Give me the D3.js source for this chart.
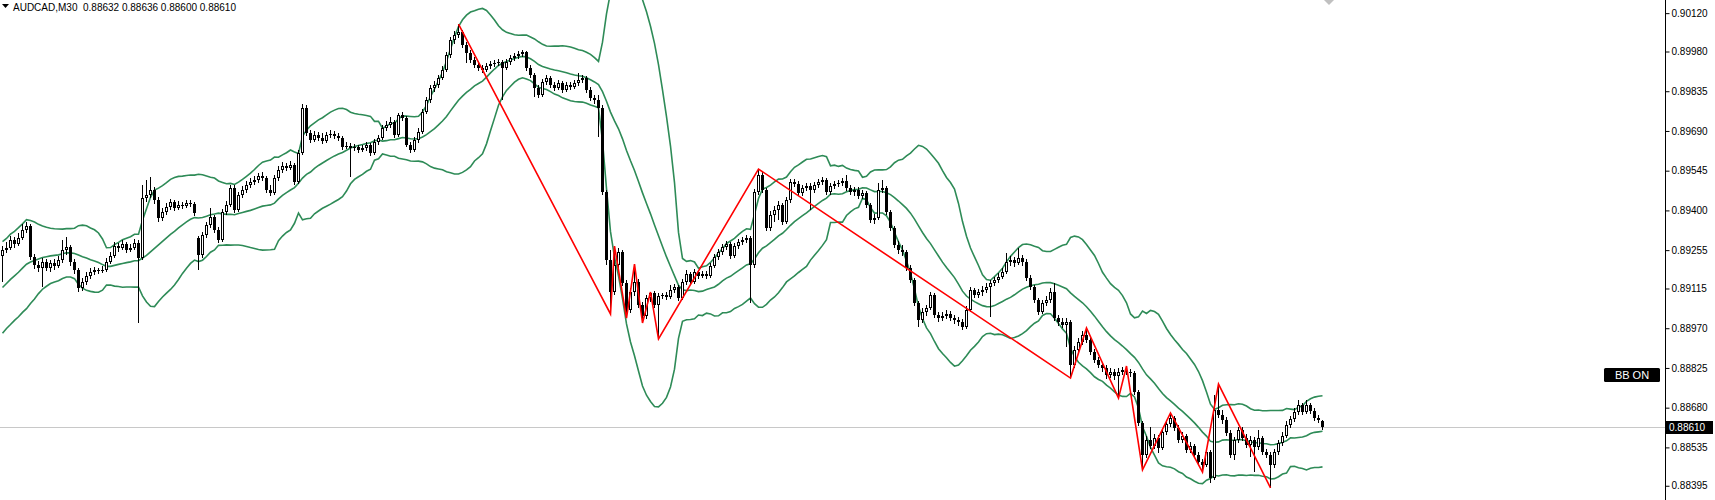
<!DOCTYPE html>
<html><head><meta charset="utf-8">
<script src="https://cdn.jsdelivr.net/npm/d3@7"></script>
<style>body{margin:0;background:#fff;overflow:hidden}svg{display:block}</style>
</head><body>
<svg id="chart" width="1715" height="500"></svg>
<script>
const symbol = "AUDCAD,M30";
const headerValues = ["0.88632","0.88636","0.88600","0.88610"];
const lastPrice = 0.88610;
const indicatorLabel = "BB ON";
const bbPeriod = 20, bbDeviation = 2;
const tickLabels = ["0.90120","0.89980","0.89835","0.89690","0.89545","0.89400","0.89255","0.89115","0.88970","0.88825","0.88680","0.88535","0.88395"];
// closes of the 19 bars before the first visible bar (needed by the bands)
const priorCloses = [0.88971,0.88993,0.89018,0.89037,0.89029,0.89055,0.89073,0.89088,0.89080,0.89110,0.89128,0.89146,0.89161,0.89183,0.89175,0.89197,0.89212,0.89226,0.89237];
const open = [0.89234,0.89256,0.89263,0.89292,0.89277,0.89299,0.89329,0.89343,0.89230,0.89201,
0.89190,0.89212,0.89190,0.89208,0.89197,0.89219,0.89256,0.89266,0.89212,0.89183,
0.89117,0.89139,0.89161,0.89175,0.89183,0.89179,0.89183,0.89212,0.89234,0.89270,
0.89263,0.89277,0.89256,0.89263,0.89281,0.89226,0.89445,0.89456,0.89475,0.89438,
0.89372,0.89394,0.89413,0.89431,0.89409,0.89420,0.89416,0.89427,0.89423,0.89299,
0.89237,0.89310,0.89347,0.89376,0.89329,0.89292,0.89394,0.89420,0.89482,0.89402,
0.89456,0.89475,0.89493,0.89504,0.89511,0.89526,0.89518,0.89475,0.89464,0.89518,
0.89548,0.89562,0.89555,0.89566,0.89504,0.89610,0.89774,0.89683,0.89657,0.89675,
0.89664,0.89653,0.89675,0.89679,0.89672,0.89664,0.89632,0.89635,0.89628,0.89632,
0.89621,0.89628,0.89639,0.89610,0.89650,0.89664,0.89701,0.89712,0.89723,0.89675,
0.89748,0.89737,0.89639,0.89621,0.89657,0.89686,0.89759,0.89803,0.89847,0.89858,
0.89883,0.89913,0.89968,0.90022,0.90040,0.90051,0.90004,0.89975,0.89949,0.89931,
0.89920,0.89913,0.89927,0.89934,0.89938,0.89942,0.89920,0.89942,0.89956,0.89964,
0.89971,0.89978,0.89920,0.89894,0.89847,0.89821,0.89869,0.89883,0.89858,0.89847,
0.89865,0.89840,0.89858,0.89851,0.89865,0.89876,0.89883,0.89840,0.89810,0.89803,
0.89774,0.89467,0.89219,0.89102,0.89201,0.89248,0.89135,0.89037,0.89102,0.89139,
0.89055,0.89015,0.89080,0.89099,0.89055,0.89088,0.89091,0.89084,0.89110,0.89120,
0.89080,0.89139,0.89168,0.89139,0.89175,0.89161,0.89168,0.89161,0.89197,0.89230,
0.89248,0.89266,0.89277,0.89234,0.89270,0.89285,0.89292,0.89299,0.89201,0.89467,
0.89529,0.89475,0.89336,0.89383,0.89402,0.89420,0.89358,0.89438,0.89504,0.89496,
0.89464,0.89482,0.89489,0.89475,0.89493,0.89504,0.89511,0.89467,0.89489,0.89496,
0.89500,0.89507,0.89482,0.89467,0.89475,0.89453,0.89464,0.89420,0.89365,0.89372,
0.89475,0.89482,0.89394,0.89336,0.89274,0.89256,0.89248,0.89190,0.89146,0.89062,
0.89000,0.89029,0.89044,0.89091,0.89018,0.89007,0.89015,0.89022,0.89007,0.89000,
0.88993,0.88974,0.89037,0.89110,0.89091,0.89102,0.89110,0.89120,0.89135,0.89146,
0.89157,0.89175,0.89212,0.89219,0.89208,0.89226,0.89212,0.89154,0.89120,0.89073,
0.89029,0.89062,0.89073,0.89102,0.89007,0.88993,0.88982,0.88993,0.88836,0.88891,
0.88920,0.88945,0.88927,0.88883,0.88854,0.88836,0.88825,0.88799,0.88810,0.88796,
0.88810,0.88818,0.88810,0.88807,0.88737,0.88624,0.88507,0.88562,0.88540,0.88570,
0.88533,0.88591,0.88621,0.88643,0.88606,0.88562,0.88577,0.88526,0.88540,0.88507,
0.88482,0.88471,0.88518,0.88423,0.88672,0.88653,0.88635,0.88588,0.88507,0.88562,
0.88599,0.88570,0.88544,0.88562,0.88537,0.88570,0.88518,0.88507,0.88471,0.88518,
0.88551,0.88577,0.88617,0.88639,0.88664,0.88690,0.88664,0.88690,0.88668,0.88643,0.88632];
const high = [0.89270,0.89285,0.89307,0.89303,0.89318,0.89350,0.89358,0.89350,0.89241,0.89215,
0.89226,0.89223,0.89219,0.89223,0.89234,0.89292,0.89303,0.89274,0.89223,0.89190,
0.89154,0.89175,0.89190,0.89194,0.89190,0.89197,0.89226,0.89248,0.89285,0.89281,
0.89292,0.89285,0.89277,0.89296,0.89292,0.89493,0.89511,0.89522,0.89486,0.89449,
0.89409,0.89427,0.89442,0.89438,0.89434,0.89431,0.89438,0.89438,0.89431,0.89307,
0.89321,0.89358,0.89409,0.89383,0.89340,0.89405,0.89434,0.89493,0.89493,0.89467,
0.89489,0.89507,0.89518,0.89526,0.89536,0.89540,0.89526,0.89493,0.89529,0.89562,
0.89577,0.89573,0.89580,0.89573,0.89621,0.89788,0.89785,0.89694,0.89690,0.89686,
0.89683,0.89686,0.89694,0.89690,0.89683,0.89672,0.89650,0.89646,0.89642,0.89639,
0.89639,0.89650,0.89646,0.89661,0.89675,0.89712,0.89726,0.89741,0.89730,0.89756,
0.89759,0.89745,0.89650,0.89668,0.89701,0.89770,0.89814,0.89858,0.89872,0.89894,
0.89927,0.89978,0.90033,0.90055,0.90080,0.90059,0.90015,0.89986,0.89960,0.89942,
0.89931,0.89938,0.89946,0.89949,0.89953,0.89949,0.89953,0.89968,0.89975,0.89982,
0.89986,0.89982,0.89931,0.89902,0.89858,0.89880,0.89894,0.89891,0.89869,0.89876,
0.89872,0.89869,0.89869,0.89876,0.89902,0.89894,0.89891,0.89851,0.89821,0.89821,
0.89785,0.89475,0.89256,0.89270,0.89263,0.89256,0.89146,0.89117,0.89204,0.89150,
0.89066,0.89091,0.89102,0.89106,0.89099,0.89099,0.89102,0.89128,0.89131,0.89128,
0.89150,0.89183,0.89175,0.89187,0.89183,0.89179,0.89179,0.89208,0.89241,0.89259,
0.89277,0.89288,0.89285,0.89281,0.89296,0.89303,0.89310,0.89307,0.89478,0.89551,
0.89540,0.89482,0.89398,0.89416,0.89434,0.89427,0.89449,0.89515,0.89515,0.89507,
0.89493,0.89500,0.89500,0.89504,0.89515,0.89522,0.89518,0.89500,0.89507,0.89511,
0.89518,0.89529,0.89493,0.89486,0.89486,0.89475,0.89471,0.89427,0.89387,0.89500,
0.89511,0.89489,0.89402,0.89343,0.89288,0.89274,0.89256,0.89201,0.89154,0.89069,
0.89044,0.89055,0.89102,0.89099,0.89029,0.89029,0.89037,0.89033,0.89018,0.89011,
0.89004,0.89051,0.89120,0.89117,0.89113,0.89124,0.89135,0.89146,0.89157,0.89172,
0.89190,0.89245,0.89234,0.89230,0.89263,0.89237,0.89223,0.89164,0.89128,0.89080,
0.89073,0.89088,0.89117,0.89135,0.89018,0.89007,0.89007,0.89000,0.88905,0.88934,
0.88960,0.88971,0.88938,0.88894,0.88865,0.88847,0.88836,0.88825,0.88821,0.88825,
0.88829,0.88832,0.88821,0.88814,0.88745,0.88632,0.88577,0.88610,0.88584,0.88581,
0.88602,0.88635,0.88661,0.88650,0.88617,0.88591,0.88584,0.88555,0.88548,0.88518,
0.88493,0.88530,0.88526,0.88726,0.88766,0.88672,0.88646,0.88599,0.88573,0.88610,
0.88610,0.88584,0.88577,0.88573,0.88599,0.88577,0.88530,0.88518,0.88530,0.88562,
0.88591,0.88632,0.88650,0.88679,0.88708,0.88697,0.88708,0.88697,0.88679,0.88653,0.88636];
const low = [0.89139,0.89245,0.89256,0.89263,0.89270,0.89292,0.89318,0.89219,0.89187,0.89175,
0.89120,0.89179,0.89175,0.89183,0.89190,0.89208,0.89237,0.89197,0.89168,0.89102,
0.89106,0.89128,0.89150,0.89164,0.89168,0.89172,0.89175,0.89204,0.89226,0.89248,
0.89256,0.89245,0.89248,0.89256,0.88989,0.89219,0.89431,0.89445,0.89423,0.89358,
0.89362,0.89383,0.89402,0.89398,0.89402,0.89405,0.89409,0.89413,0.89380,0.89183,
0.89226,0.89299,0.89336,0.89318,0.89281,0.89285,0.89383,0.89413,0.89391,0.89394,
0.89445,0.89464,0.89482,0.89493,0.89500,0.89507,0.89464,0.89453,0.89456,0.89507,
0.89536,0.89544,0.89548,0.89493,0.89496,0.89602,0.89672,0.89646,0.89650,0.89653,
0.89642,0.89646,0.89664,0.89661,0.89653,0.89621,0.89624,0.89522,0.89617,0.89610,
0.89613,0.89617,0.89599,0.89602,0.89639,0.89657,0.89690,0.89701,0.89664,0.89668,
0.89726,0.89632,0.89610,0.89613,0.89646,0.89679,0.89752,0.89792,0.89832,0.89847,
0.89876,0.89905,0.89956,0.90007,0.90029,0.89993,0.89938,0.89938,0.89920,0.89909,
0.89902,0.89905,0.89916,0.89924,0.89927,0.89803,0.89913,0.89931,0.89946,0.89953,
0.89960,0.89909,0.89883,0.89814,0.89810,0.89814,0.89858,0.89847,0.89836,0.89840,
0.89829,0.89832,0.89840,0.89843,0.89854,0.89865,0.89829,0.89799,0.89788,0.89668,
0.89456,0.89201,0.89022,0.89091,0.89183,0.89124,0.89007,0.89026,0.89088,0.89044,
0.88989,0.89004,0.89066,0.89044,0.88931,0.89077,0.89073,0.89077,0.89099,0.89069,
0.89073,0.89128,0.89128,0.89131,0.89150,0.89154,0.89150,0.89154,0.89190,0.89219,
0.89237,0.89256,0.89223,0.89226,0.89259,0.89274,0.89281,0.89062,0.89190,0.89456,
0.89464,0.89325,0.89325,0.89358,0.89365,0.89347,0.89350,0.89427,0.89486,0.89453,
0.89453,0.89471,0.89402,0.89464,0.89482,0.89493,0.89456,0.89456,0.89478,0.89486,
0.89489,0.89471,0.89456,0.89453,0.89442,0.89442,0.89409,0.89354,0.89350,0.89365,
0.89464,0.89383,0.89325,0.89263,0.89241,0.89234,0.89179,0.89135,0.89051,0.88974,
0.88989,0.89015,0.89037,0.89007,0.88993,0.88996,0.89004,0.88996,0.88985,0.88978,
0.88964,0.88967,0.89029,0.89080,0.89080,0.89088,0.89099,0.89011,0.89124,0.89135,
0.89150,0.89168,0.89197,0.89194,0.89201,0.89197,0.89142,0.89110,0.89062,0.89018,
0.89022,0.89051,0.89062,0.88996,0.88978,0.88971,0.88902,0.88788,0.88825,0.88880,
0.88909,0.88916,0.88872,0.88843,0.88825,0.88810,0.88785,0.88788,0.88781,0.88715,
0.88799,0.88799,0.88792,0.88726,0.88613,0.88453,0.88497,0.88530,0.88530,0.88515,
0.88526,0.88581,0.88610,0.88595,0.88551,0.88551,0.88515,0.88515,0.88497,0.88471,
0.88445,0.88464,0.88405,0.88416,0.88643,0.88621,0.88577,0.88497,0.88489,0.88551,
0.88559,0.88533,0.88500,0.88445,0.88526,0.88507,0.88497,0.88387,0.88460,0.88507,
0.88540,0.88570,0.88606,0.88628,0.88653,0.88653,0.88657,0.88657,0.88632,0.88624,0.88600];
const close = [0.89256,0.89263,0.89292,0.89277,0.89299,0.89329,0.89343,0.89230,0.89201,0.89190,
0.89212,0.89190,0.89208,0.89197,0.89219,0.89256,0.89266,0.89212,0.89183,0.89117,
0.89139,0.89161,0.89175,0.89183,0.89179,0.89183,0.89212,0.89234,0.89270,0.89263,
0.89277,0.89256,0.89263,0.89281,0.89226,0.89445,0.89456,0.89475,0.89438,0.89372,
0.89394,0.89413,0.89431,0.89409,0.89420,0.89416,0.89427,0.89423,0.89391,0.89237,
0.89310,0.89347,0.89376,0.89329,0.89292,0.89394,0.89420,0.89482,0.89402,0.89456,
0.89475,0.89493,0.89504,0.89511,0.89526,0.89518,0.89475,0.89464,0.89518,0.89548,
0.89562,0.89555,0.89566,0.89504,0.89610,0.89774,0.89683,0.89657,0.89675,0.89664,
0.89653,0.89675,0.89679,0.89672,0.89664,0.89632,0.89635,0.89628,0.89632,0.89621,
0.89628,0.89639,0.89610,0.89650,0.89664,0.89701,0.89712,0.89723,0.89675,0.89748,
0.89737,0.89639,0.89621,0.89657,0.89686,0.89759,0.89803,0.89847,0.89858,0.89883,
0.89913,0.89968,0.90022,0.90040,0.90051,0.90004,0.89975,0.89949,0.89931,0.89920,
0.89913,0.89927,0.89934,0.89938,0.89942,0.89920,0.89942,0.89956,0.89964,0.89971,
0.89978,0.89920,0.89894,0.89847,0.89821,0.89869,0.89883,0.89858,0.89847,0.89865,
0.89840,0.89858,0.89851,0.89865,0.89876,0.89883,0.89840,0.89810,0.89803,0.89774,
0.89467,0.89219,0.89102,0.89201,0.89248,0.89135,0.89037,0.89102,0.89139,0.89055,
0.89015,0.89080,0.89099,0.89055,0.89088,0.89091,0.89084,0.89110,0.89120,0.89080,
0.89139,0.89168,0.89139,0.89175,0.89161,0.89168,0.89161,0.89197,0.89230,0.89248,
0.89266,0.89277,0.89234,0.89270,0.89285,0.89292,0.89299,0.89201,0.89467,0.89529,
0.89475,0.89336,0.89383,0.89402,0.89420,0.89358,0.89438,0.89504,0.89496,0.89464,
0.89482,0.89489,0.89475,0.89493,0.89504,0.89511,0.89467,0.89489,0.89496,0.89500,
0.89507,0.89482,0.89467,0.89475,0.89453,0.89464,0.89420,0.89365,0.89372,0.89475,
0.89482,0.89394,0.89336,0.89274,0.89256,0.89248,0.89190,0.89146,0.89062,0.89000,
0.89029,0.89044,0.89091,0.89018,0.89007,0.89015,0.89022,0.89007,0.89000,0.88993,
0.88974,0.89037,0.89110,0.89091,0.89102,0.89110,0.89120,0.89135,0.89146,0.89157,
0.89175,0.89212,0.89219,0.89208,0.89226,0.89212,0.89154,0.89120,0.89073,0.89029,
0.89062,0.89073,0.89102,0.89007,0.88993,0.88982,0.88993,0.88836,0.88891,0.88920,
0.88945,0.88927,0.88883,0.88854,0.88836,0.88825,0.88799,0.88810,0.88796,0.88810,
0.88818,0.88810,0.88807,0.88737,0.88624,0.88507,0.88562,0.88540,0.88570,0.88533,
0.88591,0.88621,0.88643,0.88606,0.88562,0.88577,0.88526,0.88540,0.88507,0.88482,
0.88471,0.88518,0.88423,0.88672,0.88653,0.88635,0.88588,0.88507,0.88562,0.88599,
0.88570,0.88544,0.88562,0.88537,0.88570,0.88518,0.88507,0.88471,0.88518,0.88551,
0.88577,0.88617,0.88639,0.88664,0.88690,0.88664,0.88690,0.88668,0.88643,0.88635,0.88610];
const zigzagIndex = [114,152,153,156,158,160,162,164,189,267,271,279,281,285,292,300,304,317];
const zigzagPrice = [0.90080,0.89022,0.89270,0.89007,0.89204,0.88989,0.89102,0.88931,0.89551,0.88788,0.88971,0.88715,0.88832,0.88453,0.88661,0.88445,0.88766,0.88387];

const W = 1715, H = 500, axisX = 1665;
const FONT = "'Liberation Sans', Arial, sans-serif";
const svg = d3.select("#chart");
const y = d3.scaleLinear().domain([0.88343, 0.90168]).range([H, 0]);
const x = d3.scaleLinear().domain([0, close.length - 1]).range([2, 2 + 4 * (close.length - 1)]);

svg.append("defs").append("clipPath").attr("id", "plot")
  .append("rect").attr("x", 0).attr("y", 0).attr("width", axisX).attr("height", H);
const plot = svg.append("g").attr("clip-path", "url(#plot)");

// current price line
const yl = Math.round(y(lastPrice)) + 0.5;
plot.append("line").attr("x1", 0).attr("x2", axisX).attr("y1", yl).attr("y2", yl)
  .attr("stroke", "#c8c8c8").attr("stroke-width", 1);

// Bollinger bands
const all = priorCloses.concat(close);
const P = priorCloses.length;
const bands = close.map((c, i) => {
  const w = all.slice(i + P - bbPeriod + 1, i + P + 1);
  const m = d3.mean(w);
  const sd = Math.sqrt(d3.mean(w, v => (v - m) * (v - m)));
  return { i, mid: m, up: m + bbDeviation * sd, lo: m - bbDeviation * sd };
});
["up", "mid", "lo"].forEach(k => {
  plot.append("path").datum(bands)
    .attr("fill", "none").attr("stroke", "#2e8b57").attr("stroke-width", 1.6)
    .attr("d", d3.line().x(d => x(d.i) + 0.5).y(d => y(d[k])).curve(d3.curveLinear));
});

// candles
const cg = plot.append("g").attr("shape-rendering", "crispEdges");
close.forEach((c, i) => {
  const o = open[i], cx = x(i);
  const yh = Math.round(y(high[i])), ylo = Math.round(y(low[i]));
  cg.append("rect").attr("x", cx).attr("y", yh).attr("width", 1).attr("height", Math.max(1, ylo - yh)).attr("fill", "#000");
  const top = Math.round(y(Math.max(o, c))), bot = Math.round(y(Math.min(o, c)));
  const h = Math.max(1, bot - top);
  cg.append("rect").attr("x", cx - 1).attr("y", top).attr("width", 3).attr("height", h).attr("fill", "#000");
  if (c > o && h > 2) {
    cg.append("rect").attr("x", cx).attr("y", top + 1).attr("width", 1).attr("height", h - 2).attr("fill", "#fff");
  }
});

// zigzag
plot.append("path").datum(zigzagIndex.map((idx, k) => [idx, zigzagPrice[k]]))
  .attr("fill", "none").attr("stroke", "#ff0000").attr("stroke-width", 1.6)
  .attr("d", d3.line().x(d => x(d[0]) + 0.5).y(d => y(d[1])));

// chart shift marker
svg.append("path").attr("d", `M${x(close.length - 1) + 2},0 L${x(close.length - 1) + 12},0 L${x(close.length - 1) + 7},5 Z`)
  .attr("fill", "#c0c0c0");

// price axis
svg.append("line").attr("x1", axisX + 0.5).attr("x2", axisX + 0.5).attr("y1", 0).attr("y2", H)
  .attr("stroke", "#000").attr("stroke-width", 1);
const axis = d3.axisRight(y).tickValues(tickLabels.map(Number)).tickSize(4).tickPadding(2)
  .tickFormat((d, i) => tickLabels[i]);
const ag = svg.append("g").attr("transform", `translate(${axisX + 0.5},0)`).call(axis);
ag.select(".domain").remove();
ag.selectAll(".tick line").attr("stroke", "#000");
ag.selectAll(".tick text").attr("font-family", FONT).attr("font-size", 10).attr("fill", "#000");

// last price label
svg.append("rect").attr("x", axisX + 1).attr("y", yl - 6.5).attr("width", 47).attr("height", 13).attr("fill", "#000");
svg.append("text").attr("x", axisX + 4).attr("y", yl).attr("dy", "0.35em")
  .attr("font-family", FONT).attr("font-size", 10).attr("fill", "#fff").text(lastPrice.toFixed(5));

// BB ON button
svg.append("rect").attr("x", 1604).attr("y", 368).attr("width", 56).attr("height", 14).attr("rx", 1.5).attr("fill", "#000");
svg.append("text").attr("x", 1632).attr("y", 375).attr("dy", "0.36em").attr("text-anchor", "middle")
  .attr("font-family", FONT).attr("font-size", 11).attr("fill", "#fff").text(indicatorLabel);

// header
svg.append("path").attr("d", "M2,4 L9,4 L5.5,8 Z").attr("fill", "#000");
svg.append("text").attr("x", 13).attr("y", 10.5).attr("xml:space", "preserve").style("white-space", "pre")
  .attr("font-family", FONT).attr("font-size", 10).attr("fill", "#000")
  .text(symbol + "  " + headerValues.join(" "));
</script>
</body></html>
